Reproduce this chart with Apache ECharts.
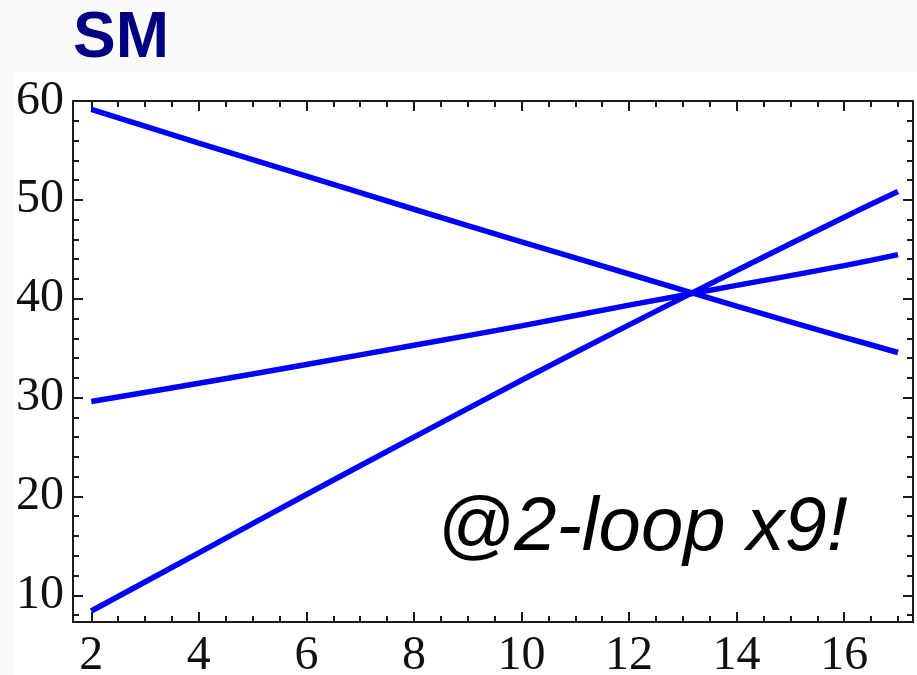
<!DOCTYPE html>
<html>
<head>
<meta charset="utf-8">
<script src="https://cdn.jsdelivr.net/npm/echarts@6/dist/echarts.min.js"></script>
<style>
  html, body { margin: 0; padding: 0; background: #fafafa; }
  #chart { width: 917px; height: 675px; }
</style>
</head>
<body>
<div id="chart"></div>
<script>
// Inverse gauge couplings vs. log10 of the scale (SM, two-loop running)
const scale = [2, 4, 6, 8, 10, 12, 14, 16, 17];
const alpha1Inv = [59.16, 55.75, 52.4, 49.05, 45.75, 42.5, 39.25, 36.1, 34.56];
const alpha2Inv = [29.6, 31.45, 33.35, 35.3, 37.25, 39.35, 41.35, 43.35, 44.46];
const alpha3Inv = [8.41, 14.3, 20.2, 26.0, 31.75, 37.35, 42.85, 48.25, 50.85];

const xTickLabels = [2, 4, 6, 8, 10, 12, 14, 16];
const xMinorTicks = [2.5, 3, 3.5, 4.5, 5, 5.5, 6.5, 7, 7.5, 8.5, 9, 9.5, 10.5, 11, 11.5,
                     12.5, 13, 13.5, 14.5, 15, 15.5, 16.5, 17];
const yTickLabels = [10, 20, 30, 40, 50, 60];
const yMinorTicks = [8, 12, 14, 16, 18, 22, 24, 26, 28, 32, 34, 36, 38, 42, 44, 46, 48,
                     52, 54, 56, 58];

const xRange = { min: 1.66, max: 17.28 };
const yRange = { min: 7.3, max: 60 };

const frameColor = '#1a1a1a';
const labelFont = { fontFamily: 'Liberation Serif', fontSize: 48, color: '#111' };

function axis(kind, position, major, ticks, showLabels, showLine) {
  const range = kind === 'x' ? xRange : yRange;
  return {
    type: 'value',
    position: position,
    min: range.min,
    max: range.max,
    splitLine: { show: false },
    axisLine: { show: showLine, onZero: false, lineStyle: { color: frameColor, width: 2 } },
    axisTick: {
      show: true,
      inside: true,
      length: major ? 10 : 6,
      customValues: ticks,
      lineStyle: { color: frameColor, width: 2 }
    },
    axisLabel: showLabels
      ? Object.assign({ show: true, customValues: ticks, margin: kind === 'x' ? 10 : 9 }, labelFont)
      : { show: false }
  };
}

const chart = echarts.init(document.getElementById('chart'), null, { renderer: 'canvas' });

const pairs = (ys) => scale.map((x, i) => [x, ys[i]]);
const lineSeries = (name, ys) => ({
  name: name,
  type: 'line',
  xAxisIndex: 0,
  yAxisIndex: 0,
  data: pairs(ys),
  showSymbol: false,
  symbol: 'none',
  smooth: 0.4,
  lineStyle: { color: '#0000ff', width: 5.5 },
  z: 3
});

chart.setOption({
  backgroundColor: '#fafafa',
  animation: false,
  grid: {
    left: 73, right: 4, top: 101, bottom: 53,
    containLabel: false, outerBoundsMode: 'none', show: false
  },
  xAxis: [
    axis('x', 'bottom', true, xTickLabels, true, true),
    axis('x', 'bottom', false, xMinorTicks, false, false),
    axis('x', 'top', true, xTickLabels, false, true),
    axis('x', 'top', false, xMinorTicks, false, false)
  ],
  yAxis: [
    axis('y', 'left', true, yTickLabels, true, true),
    axis('y', 'left', false, yMinorTicks, false, false),
    axis('y', 'right', true, yTickLabels, false, true),
    axis('y', 'right', false, yMinorTicks, false, false)
  ],
  series: [
    lineSeries('α1⁻¹', alpha1Inv),
    lineSeries('α2⁻¹', alpha2Inv),
    lineSeries('α3⁻¹', alpha3Inv)
  ],
  graphic: [
    {
      type: 'rect',
      z: -10,
      silent: true,
      shape: { x: 15, y: 72, width: 902, height: 603 },
      style: { fill: '#ffffff' }
    },
    {
      type: 'text',
      z: 10,
      x: 73,
      y: 39,
      style: {
        text: 'SM',
        fontFamily: 'Liberation Sans',
        fontWeight: 'bold',
        fontSize: 64,
        fill: '#000080',
        align: 'left',
        verticalAlign: 'middle'
      }
    },
    {
      type: 'text',
      z: 10,
      x: 437,
      y: 529,
      style: {
        text: '@2-loop x9!',
        fontFamily: 'Liberation Sans',
        fontStyle: 'italic',
        fontSize: 76,
        fill: '#000000',
        align: 'left',
        verticalAlign: 'middle'
      }
    }
  ]
});
</script>
</body>
</html>
